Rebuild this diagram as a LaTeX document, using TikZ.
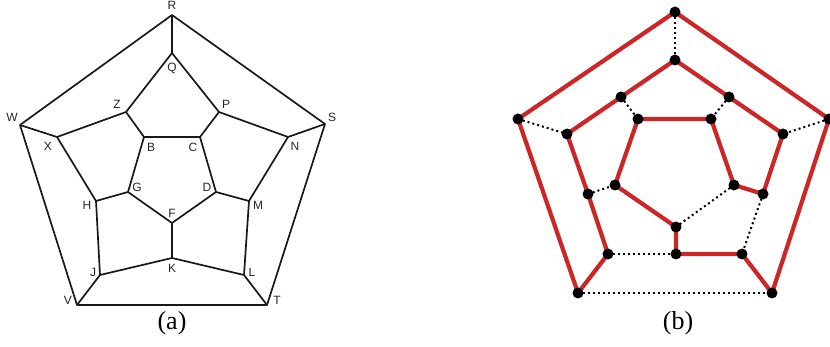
\documentclass[tikz,border=0pt]{standalone}
\usepackage{fontspec}
\setmainfont{Liberation Serif}
\setsansfont{Liberation Sans}
\definecolor{cycred}{RGB}{205,38,38}

\begin{document}
\begin{tikzpicture}[x=1pt,y=-1pt,
  edge/.style={line width=1.7pt,line join=round,black!90},
  lbl/.style={font=\sffamily\fontsize{12}{12}\selectfont,text=black!85,inner sep=0pt},
  sublbl/.style={font=\fontsize{26}{26}\selectfont,inner sep=0pt},
  cyc/.style={cycred,line width=4.2pt,line join=round},
  skip/.style={line width=2pt,dash pattern=on 2pt off 3pt},
  vtx/.style={circle,fill=black,inner sep=0pt,minimum size=11pt}]
\useasboundingbox (0,0) rectangle (830,347);
% (a) the dodecahedron with its labels
\coordinate (R) at (172,15);
\coordinate (Q) at (172,53);
\coordinate (Z) at (126,112);
\coordinate (P) at (219,112);
\coordinate (W) at (20,125);
\coordinate (S) at (325,124);
\coordinate (X) at (57,137);
\coordinate (N) at (288,137);
\coordinate (B) at (144,137);
\coordinate (C) at (200,137);
\coordinate (G) at (128,192);
\coordinate (D) at (216,192);
\coordinate (H) at (96,201);
\coordinate (M) at (249,201);
\coordinate (F) at (172,223);
\coordinate (K) at (172,258);
\coordinate (J) at (100,275);
\coordinate (L) at (244,275);
\coordinate (V) at (77,305);
\coordinate (T) at (267,305);
\draw[edge] (W) -- (R) -- (S) -- (T) -- (V) -- cycle;
\draw[edge] (Q) -- (P) -- (C) -- (B) -- (Z) -- cycle;
\draw[edge] (X) -- (Z);
\draw[edge] (N) -- (P);
\draw[edge] (X) -- (H) -- (G) -- (F) -- (D) -- (M) -- (N);
\draw[edge] (B) -- (G);
\draw[edge] (C) -- (D);
\draw[edge] (H) -- (J) -- (K) -- (L) -- (M);
\draw[edge] (F) -- (K);
\draw[edge] (R) -- (Q);
\draw[edge] (W) -- (X);
\draw[edge] (S) -- (N);
\draw[edge] (J) -- (V);
\draw[edge] (L) -- (T);
\node[lbl] at (172,5) {R};
\node[lbl] at (172,68) {Q};
\node[lbl] at (117,104) {Z};
\node[lbl] at (226,104) {P};
\node[lbl] at (12,117) {W};
\node[lbl] at (332,117) {S};
\node[lbl] at (48,146) {X};
\node[lbl] at (295,146) {N};
\node[lbl] at (151,147) {B};
\node[lbl] at (193,147) {C};
\node[lbl] at (137,187) {G};
\node[lbl] at (207,187) {D};
\node[lbl] at (87,205) {H};
\node[lbl] at (258,205) {M};
\node[lbl] at (172,213) {F};
\node[lbl] at (172,268) {K};
\node[lbl] at (93,272) {J};
\node[lbl] at (252,272) {L};
\node[lbl] at (68,300) {V};
\node[lbl] at (277,300) {T};
\node[sublbl] at (172,323) {(a)};
% (b) a Hamiltonian cycle
\coordinate (r) at (675,12);
\coordinate (q) at (675,60);
\coordinate (z) at (621,97);
\coordinate (p) at (729,97);
\coordinate (w) at (518,119);
\coordinate (s) at (829,119);
\coordinate (b) at (638,119);
\coordinate (c) at (711,119);
\coordinate (x) at (567,134);
\coordinate (n) at (783,134);
\coordinate (g) at (615,185);
\coordinate (h) at (588,194);
\coordinate (d) at (734,185);
\coordinate (m) at (763,194);
\coordinate (f) at (676,227);
\coordinate (j) at (608,254);
\coordinate (k) at (676,254);
\coordinate (l) at (742,254);
\coordinate (v) at (578,293);
\coordinate (t) at (772,293);
\draw[cyc] (r) -- (w) -- (v) -- (j) -- (h) -- (x) -- (z) -- (q) -- (p) -- (n)
  -- (m) -- (d) -- (c) -- (b) -- (g) -- (f) -- (k) -- (l) -- (t) -- (s) -- cycle;
\draw[skip] (r) -- (q);
\draw[skip] (z) -- (b);
\draw[skip] (p) -- (c);
\draw[skip] (w) -- (x);
\draw[skip] (s) -- (n);
\draw[skip] (h) -- (g);
\draw[skip] (d) -- (f);
\draw[skip] (m) -- (l);
\draw[skip] (j) -- (k);
\draw[skip] (v) -- (t);
\foreach \vname in {r,q,z,p,w,s,b,c,x,n,g,h,d,m,f,j,k,l,v,t}
  \node[vtx] at (\vname) {};
\node[sublbl] at (678,323) {(b)};
\end{tikzpicture}
\end{document}
